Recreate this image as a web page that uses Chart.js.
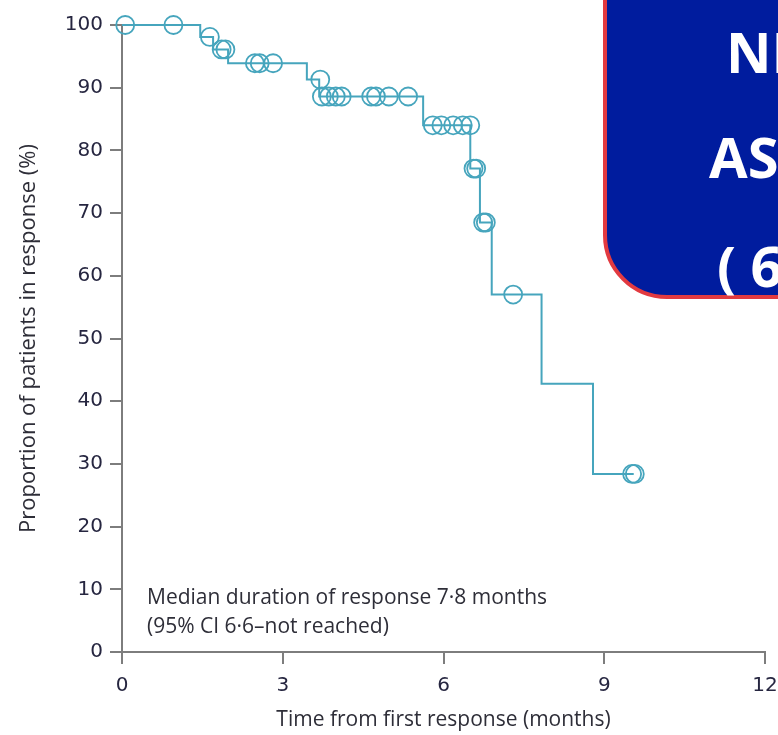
<!DOCTYPE html>
<html>
<head>
<meta charset="utf-8">
<script src="https://cdn.jsdelivr.net/npm/chart.js@4/dist/chart.umd.min.js"></script>
<style>
  html, body { margin: 0; padding: 0; background: #ffffff; }
  #wrap { position: relative; width: 778px; height: 735px; }
</style>
</head>
<body>
<div id="wrap"><canvas id="km" width="778" height="735"></canvas></div>
<script>
// Kaplan-Meier estimate: times of each step (months) and the level after it (%)
const stepTimes  = [0, 1.46, 1.70, 1.98, 3.45, 3.68, 5.62, 6.50, 6.68, 6.90, 7.83, 8.79, 9.55];
const stepLevels = [100, 98.1, 96.1, 93.9, 91.3, 88.6, 84.0, 77.1, 68.5, 57.0, 42.8, 28.4, 28.4];

// Censored observations (months, % in response at that time)
const censorTimes  = [0.06, 0.96, 1.64, 1.86, 1.93, 2.48, 2.57, 2.82, 3.70, 3.73, 3.86, 3.99, 4.10,
                      4.65, 4.74, 4.98, 5.34, 5.80, 5.96, 6.18, 6.36, 6.50, 6.56, 6.61, 6.74, 6.79,
                      7.30, 9.52, 9.57];
const censorLevels = [100, 100, 98.1, 96.1, 96.1, 93.9, 93.9, 93.9, 91.3, 88.6, 88.6, 88.6, 88.6,
                      88.6, 88.6, 88.6, 88.6, 84.0, 84.0, 84.0, 84.0, 84.0, 77.1, 77.1, 68.5, 68.5,
                      57.0, 28.4, 28.4];

const xTicks = [0, 3, 6, 9, 12];
const yTicks = [0, 10, 20, 30, 40, 50, 60, 70, 80, 90, 100];

const noteLines = ['Median duration of response 7\u00b78 months', '(95% CI 6\u00b76\u2013not reached)'];
const bannerLines = ['NI', 'AS', '( 6'];

const curveColor = '#46a5bd';
const axisColor = '#7d7d7d';
const tickTextColor = '#262640';
const textColor = '#2e2e38';
const textFont = '"Open Sans", Lato, sans-serif';
const tickFont = '"DejaVu Sans", sans-serif';

const curvePoints = stepTimes.map((t, i) => ({ x: t, y: stepLevels[i] }));
const censorPoints = censorTimes.map((t, i) => ({ x: t, y: censorLevels[i] }));

// Median note inside the plot, lower left
const notePlugin = {
  id: 'note',
  afterDatasetsDraw(chart) {
    const { ctx, chartArea } = chart;
    ctx.save();
    ctx.fillStyle = textColor;
    ctx.font = '21px ' + textFont;
    ctx.textBaseline = 'middle';
    ctx.textAlign = 'left';
    ctx.fillText(noteLines[0], chartArea.left + 25, chartArea.bottom - 54);
    ctx.fillText(noteLines[1], chartArea.left + 25, chartArea.bottom - 25);
    ctx.restore();
  }
};

// Blue banner with red outline in the upper right corner
const bannerPlugin = {
  id: 'banner',
  afterDraw(chart) {
    const { ctx } = chart;
    const left = 605, bottom = 297, r = 62;
    ctx.save();
    ctx.beginPath();
    ctx.moveTo(left, -10);
    ctx.arcTo(left, bottom, left + r, bottom, r);
    ctx.lineTo(800, bottom);
    ctx.lineTo(800, -10);
    ctx.closePath();
    ctx.fillStyle = '#001c9e';
    ctx.fill();
    ctx.lineWidth = 4;
    ctx.strokeStyle = '#e23a40';
    ctx.stroke();
    ctx.fillStyle = '#ffffff';
    ctx.font = 'bold 56px "Open Sans", sans-serif';
    ctx.textBaseline = 'alphabetic';
    ctx.textAlign = 'left';
    ctx.fillText(bannerLines[0], 726, 73);
    ctx.fillText(bannerLines[1], 709, 178);
    ctx.fillText(bannerLines[2], 717, 287);
    ctx.restore();
  }
};

new Chart(document.getElementById('km'), {
  type: 'line',
  data: {
    datasets: [
      {
        data: curvePoints,
        stepped: 'before',
        borderColor: curveColor,
        borderWidth: 2,
        pointRadius: 0,
        fill: false,
        clip: false
      },
      {
        data: censorPoints,
        showLine: false,
        pointStyle: 'circle',
        pointRadius: 9,
        pointBorderWidth: 1.8,
        pointBackgroundColor: 'rgba(0,0,0,0)',
        pointBorderColor: curveColor,
        clip: false
      }
    ]
  },
  options: {
    responsive: false,
    animation: false,
    events: [],
    layout: { padding: { top: 25, right: 13, left: 0, bottom: 0 } },
    plugins: { legend: { display: false }, tooltip: { enabled: false } },
    scales: {
      x: {
        type: 'linear',
        min: 0, max: 12,
        afterBuildTicks: (s) => { s.ticks = xTicks.map(v => ({ value: v })); },
        afterFit: (s) => { s.height = 83; s.paddingRight = 0; s.paddingLeft = 0; },
        border: { display: true, color: axisColor, width: 2 },
        grid: { drawOnChartArea: false, drawTicks: true, tickLength: 12, color: axisColor, lineWidth: 2 },
        ticks: { color: tickTextColor, font: { family: tickFont, size: 20 }, padding: 10, maxRotation: 0 },
        title: { display: true, text: 'Time from first response (months)', color: textColor,
                 font: { family: textFont, size: 21 }, padding: { top: 0, bottom: 2 } }
      },
      y: {
        min: 0, max: 100,
        afterBuildTicks: (s) => { s.ticks = yTicks.map(v => ({ value: v })); },
        afterFit: (s) => { s.width = 122; },
        border: { display: true, color: axisColor, width: 2 },
        grid: { drawOnChartArea: false, drawTicks: true, tickLength: 12, color: axisColor, lineWidth: 2 },
        ticks: { color: tickTextColor, font: { family: tickFont, size: 20 }, padding: 7 },
        title: { display: true, text: 'Proportion of patients in response (%)', color: textColor,
                 font: { family: textFont, size: 22 }, padding: { top: 16, bottom: 0 } }
      }
    }
  },
  plugins: [notePlugin, bannerPlugin]
});
</script>
</body>
</html>
